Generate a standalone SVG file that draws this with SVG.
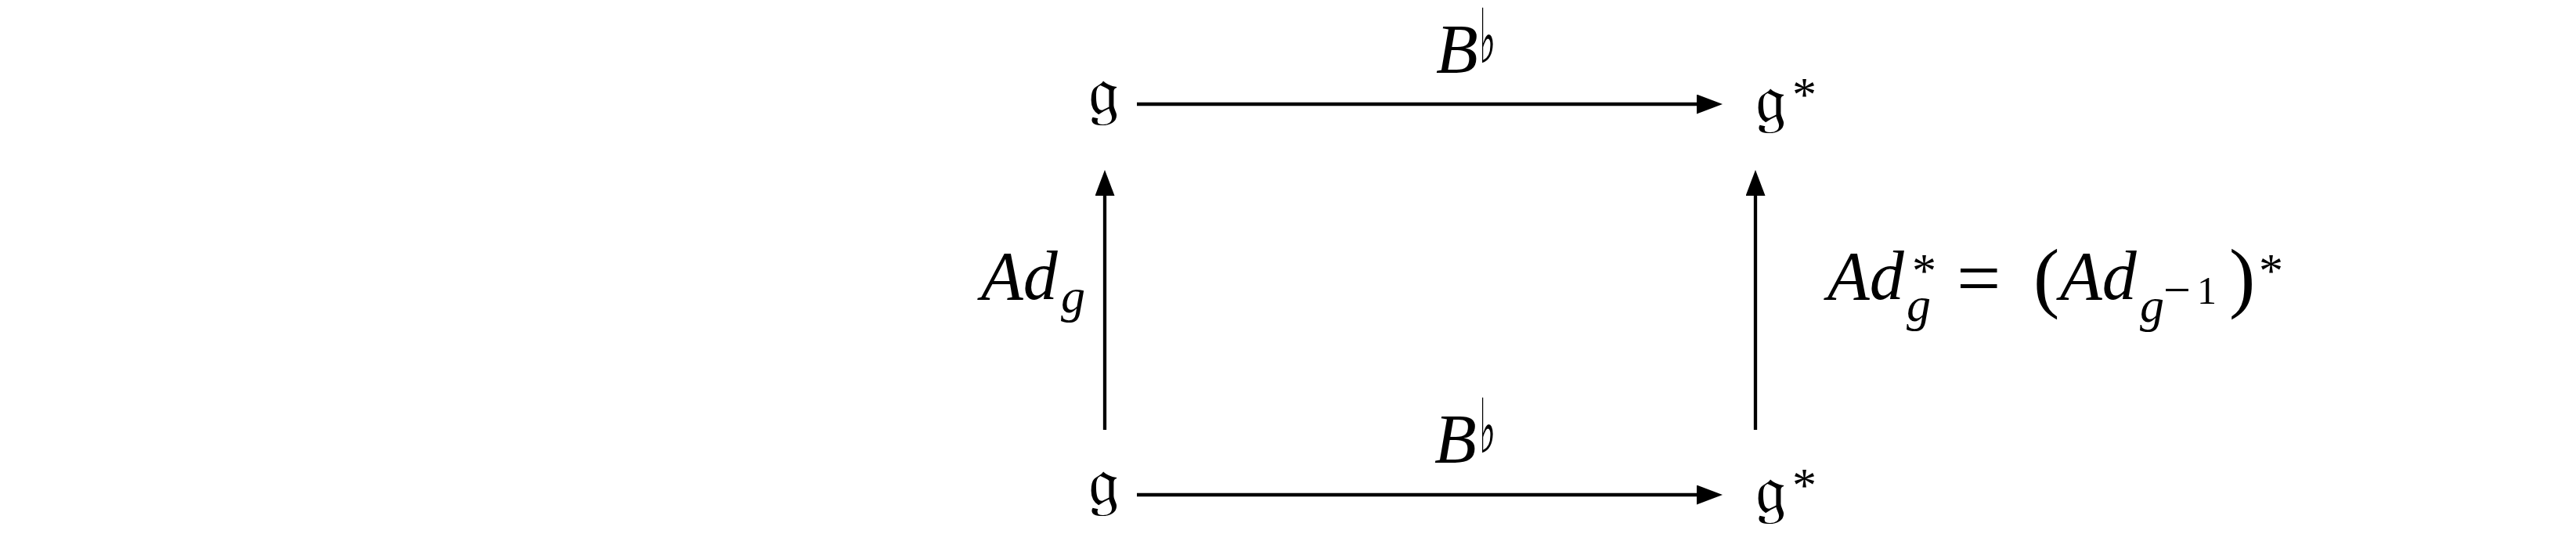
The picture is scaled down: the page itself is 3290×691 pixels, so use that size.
<svg xmlns="http://www.w3.org/2000/svg" width="3290" height="691" viewBox="0 0 3290 691">
<style>
.m{font-family:"Liberation Serif","DejaVu Serif",serif;font-style:italic;fill:#000}
.r{font-family:"Liberation Serif","DejaVu Serif",serif;fill:#000}
.fr{font-family:"DejaVu Serif","DejaVu Sans","Noto Sans",serif;fill:#000;font-size:88px}
.fl{font-family:"DejaVu Sans","DejaVu Serif",sans-serif;fill:#000;font-size:96px}
.c{stroke:#000;stroke-width:4.3;fill:none}
</style>
<defs>
<marker id="ah" markerUnits="userSpaceOnUse" markerWidth="40" markerHeight="30" refX="13" refY="12.5" orient="auto">
<path d="M0,0 L33,12.5 L0,25 Z" fill="#000"/>
</marker>
</defs>
<rect width="3290" height="691" fill="#fff"/>
<g id="connectors">
<path class="c" d="M1452,133 H2180" marker-end="url(#ah)"/>
<path class="c" d="M1452,632 H2180" marker-end="url(#ah)"/>
<path class="c" d="M1411,549 V237" marker-end="url(#ah)"/>
<path class="c" d="M2242,549 V237" marker-end="url(#ah)"/>
</g>
<g id="n-g-top"><text class="fr" x="1390" y="146">𝔤</text></g>
<g id="n-gs-top"><text class="fr" x="2242" y="156">𝔤</text><text class="r" x="2289" y="141" font-size="62">*</text></g>
<g id="n-g-bot"><text class="fr" x="1390" y="645">𝔤</text></g>
<g id="n-gs-bot"><text class="fr" x="2242" y="655">𝔤</text><text class="r" x="2289" y="640" font-size="62">*</text></g>
<g id="l-top"><text class="m" x="1834" y="92" font-size="88">B</text><text class="fl" transform="translate(1889,80) scale(0.47,1)">♭</text></g>
<g id="l-bot"><text class="m" x="1832" y="590" font-size="88">B</text><text class="fl" transform="translate(1889,578) scale(0.47,1)">♭</text></g>
<g id="l-left"><text class="m" font-size="88" x="1253" y="382">Ad</text><text class="m" font-size="62" x="1355" y="399">g</text></g>
<g id="l-right">
<text class="m" font-size="88" x="2334" y="382">Ad</text>
<text class="r" font-size="62" x="2442" y="366">*</text>
<text class="m" font-size="62" x="2435" y="410">g</text>
<text class="r" font-size="100" x="2499" y="389">=</text>
<text class="r" font-size="100" x="2597" y="387">(</text>
<text class="m" font-size="88" x="2631" y="382">Ad</text>
<text class="m" font-size="62" x="2733" y="411">g</text>
<text class="r" font-size="62" x="2763" y="391">−</text>
<text class="r" font-size="50" x="2806" y="388">1</text>
<text class="r" font-size="100" x="2847" y="387">)</text>
<text class="r" font-size="62" x="2885" y="366">*</text>
</g>
</svg>
